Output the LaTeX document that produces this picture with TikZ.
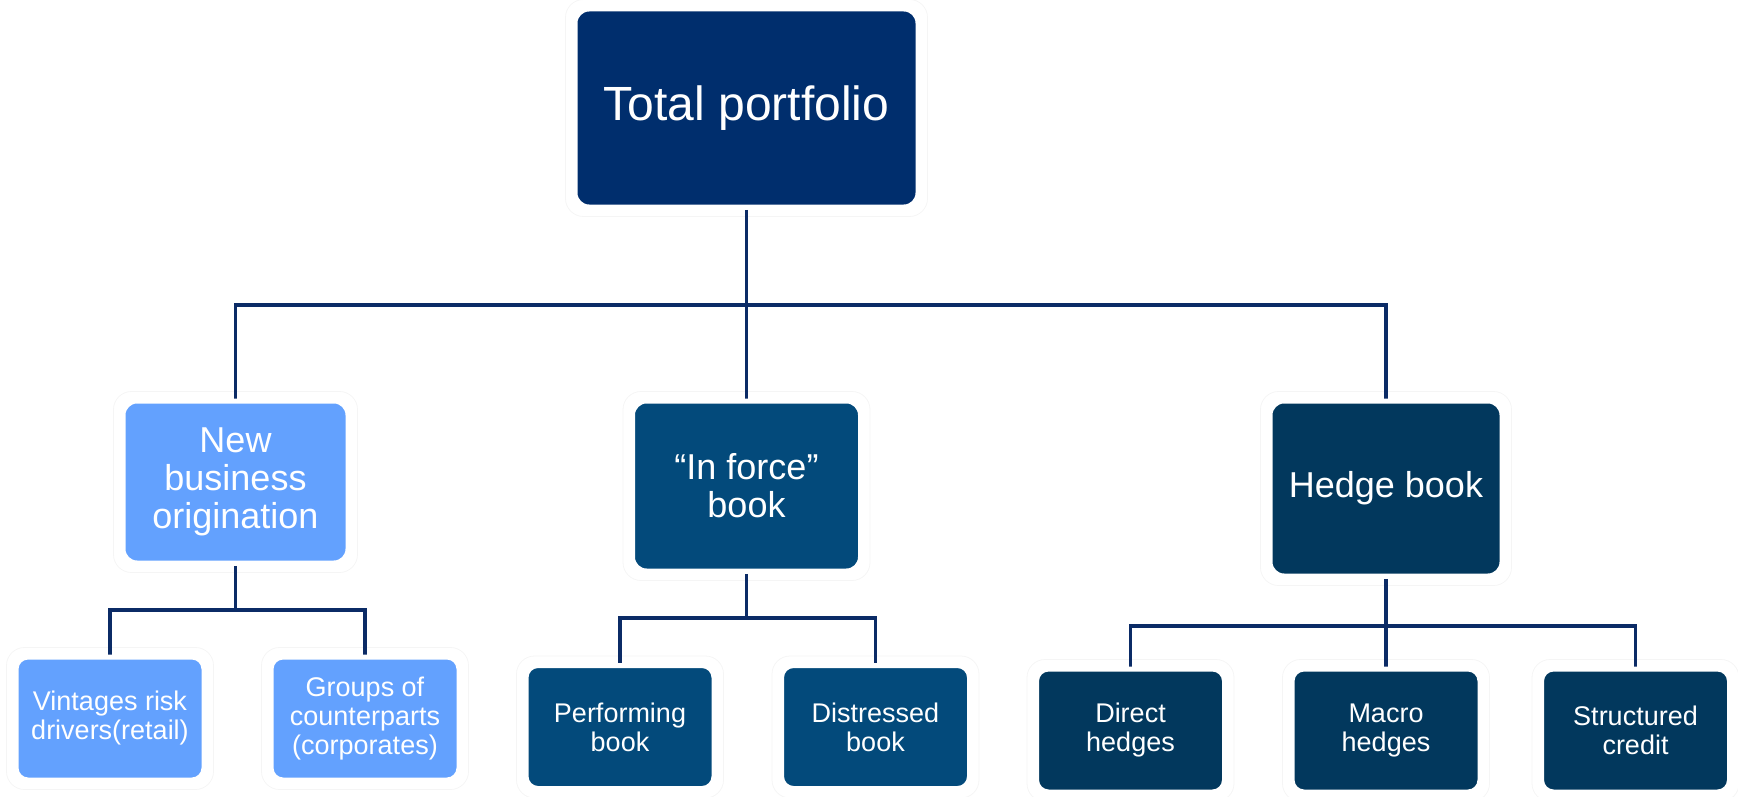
\documentclass[tikz,border=0pt]{standalone}
\usepackage{fontspec}
\setmainfont{Liberation Sans}
\usetikzlibrary{backgrounds}
\definecolor{cTop}{RGB}{0,46,109}
\definecolor{cNew}{RGB}{99,161,254}
\definecolor{cForce}{RGB}{3,74,123}
\definecolor{cHedge}{RGB}{2,56,93}
\definecolor{cLine}{RGB}{11,43,102}
\begin{document}
\begin{tikzpicture}[x=1pt,y=-1pt,
  box/.style={rounded corners=14pt, draw=white, line width=5pt, text=white, align=center, inner sep=0pt, anchor=center},
  bigbox/.style={box, font=\fontsize{36}{38}\selectfont},
  smallbox/.style={box, rounded corners=12pt, minimum width=188pt, minimum height=123pt, font=\fontsize{27}{29}\selectfont},
  conn/.style={draw=cLine, line width=3.5pt},
  halo/.style={draw=black!4, line width=0.8pt, rounded corners=18pt}]
\useasboundingbox (0,0) rectangle (1738,797);

\node[box, fill=cTop, minimum width=343pt, minimum height=198pt, font=\fontsize{48}{50}\selectfont] (total) at (746.5,108) {Total portfolio};

\node[bigbox, fill=cNew, minimum width=225pt, minimum height=162pt] (nbo) at (235.5,482) {New\\business\\origination};
\node[bigbox, fill=cForce, minimum width=228pt, minimum height=170pt] (infb) at (746.5,486) {“In force”\\book};
\node[bigbox, fill=cHedge, minimum width=232pt, minimum height=175pt] (hedge) at (1386,488.5) {Hedge book};

\node[smallbox, fill=cNew] (vint) at (110,718.5) {Vintages risk\\drivers(retail)};
\node[smallbox, fill=cNew] (groups) at (365,718.5) {Groups of\\counterparts\\(corporates)};
\node[smallbox, fill=cForce] (perf) at (620,727) {Performing\\book};
\node[smallbox, fill=cForce] (dist) at (875.5,727) {Distressed\\book};
\node[smallbox, fill=cHedge] (direct) at (1130.5,730.5) {Direct\\hedges};
\node[smallbox, fill=cHedge] (macro) at (1386,730.5) {Macro\\hedges};
\node[smallbox, fill=cHedge] (struct) at (1635.5,730.5) {Structured\\credit};

\coordinate (bus) at (746.5,305);
\coordinate (nbus) at (235.5,610);
\coordinate (fbus) at (746.5,618);
\coordinate (hbus) at (1386,626);

\begin{pgfonlayer}{background}
  \foreach \n in {total,nbo,infb,hedge,vint,groups,perf,dist,direct,macro,struct}{
    \draw[halo] ([shift={(-7pt,7pt)}]\n.north west) rectangle ([shift={(7pt,-7pt)}]\n.south east);
  }
  \draw[conn] (total.south) -- (infb.north);
  \draw[conn] (nbo.north) |- (bus) -| (hedge.north);
  \draw[conn] (nbo.south) -- (nbus);
  \draw[conn] (vint.north) |- (nbus) -| (groups.north);
  \draw[conn] (infb.south) -- (fbus);
  \draw[conn] (perf.north) |- (fbus) -| (dist.north);
  \draw[conn] (hedge.south) -- (macro.north);
  \draw[conn] (direct.north) |- (hbus) -| (struct.north);
\end{pgfonlayer}
\end{tikzpicture}
\end{document}
